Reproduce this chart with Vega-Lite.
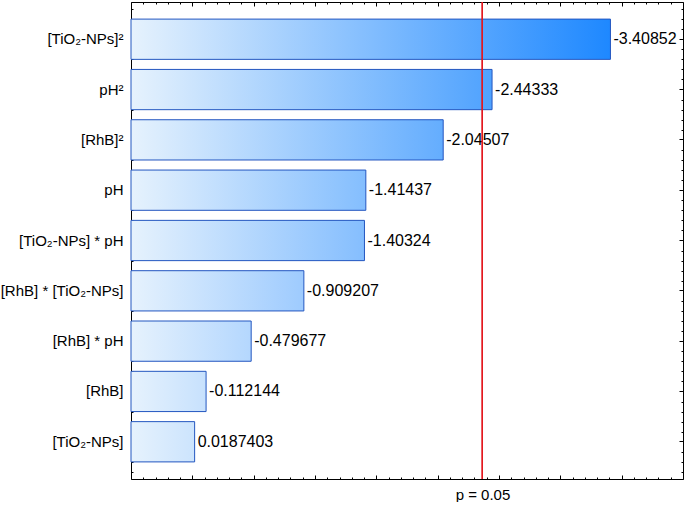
{
  "$schema": "https://vega.github.io/schema/vega-lite/v6.json",
  "width": 552,
  "height": 477,
  "padding": {"left": 0, "top": 1, "right": 2, "bottom": 0},
  "background": "white",
  "config": {
    "view": {"stroke": "#000000", "strokeWidth": 1},
    "font": "Liberation Sans",
    "axis": {"domain": false, "grid": false, "tickColor": "#000000", "tickWidth": 1, "labelColor": "#000000", "labelFont": "Liberation Sans", "labelFontSize": 15, "title": null}
  },
  "data": {"values": [
    {"term": "[TiO₂-NPs]²", "effect": -3.40852, "abs_effect": 3.40852},
    {"term": "pH²", "effect": -2.44333, "abs_effect": 2.44333},
    {"term": "[RhB]²", "effect": -2.04507, "abs_effect": 2.04507},
    {"term": "pH", "effect": -1.41437, "abs_effect": 1.41437},
    {"term": "[TiO₂-NPs] * pH", "effect": -1.40324, "abs_effect": 1.40324},
    {"term": "[RhB] * [TiO₂-NPs]", "effect": -0.909207, "abs_effect": 0.909207},
    {"term": "[RhB] * pH", "effect": -0.479677, "abs_effect": 0.479677},
    {"term": "[RhB]", "effect": -0.112144, "abs_effect": 0.112144},
    {"term": "[TiO₂-NPs]", "effect": 0.0187403, "abs_effect": 0.0187403}
  ]},
  "resolve": {"scale": {"y": "independent"}, "axis": {"y": "independent"}},
  "layer": [
    {
      "resolve": {"axis": {"x": "independent", "y": "independent"}},
      "layer": [
        {
          "transform": [{"filter": "datum.effect === -3.40852"}],
          "mark": {"type": "bar", "stroke": "#2356c0", "strokeWidth": 1, "fill": {"gradient": "linear", "x1": 0, "y1": 0, "x2": 1, "y2": 0, "stops": [{"offset": 0, "color": "#e6f2fd"}, {"offset": 1, "color": "#1e88ff"}]}},
          "encoding": {
            "y": {"field": "term", "type": "nominal", "sort": null, "scale": {"domain": ["[TiO₂-NPs]²", "pH²", "[RhB]²", "pH", "[TiO₂-NPs] * pH", "[RhB] * [TiO₂-NPs]", "[RhB] * pH", "[RhB]", "[TiO₂-NPs]"], "paddingInner": 0.2, "paddingOuter": 0.34}, "axis": {"orient": "left", "tickSize": -4, "labelPadding": 12}},
            "x": {"field": "abs_effect", "type": "quantitative", "scale": {"domain": [-0.5, 4], "nice": false, "zero": false}, "axis": {"orient": "bottom", "values": [-0.5, 0, 0.5, 1, 1.5, 2, 2.5, 3, 3.5, 4], "labels": false, "tickSize": -4}},
            "x2": {"datum": -0.5}
          }
        },
        {
          "transform": [{"filter": "datum.effect === -2.44333"}],
          "mark": {"type": "bar", "stroke": "#2356c0", "strokeWidth": 1, "fill": {"gradient": "linear", "x1": 0, "y1": 0, "x2": 1, "y2": 0, "stops": [{"offset": 0, "color": "#e6f2fd"}, {"offset": 1, "color": "#4fa2fe"}]}},
          "encoding": {
            "y": {"field": "term", "type": "nominal", "sort": null, "axis": null},
            "x": {"field": "abs_effect", "type": "quantitative", "axis": null},
            "x2": {"datum": -0.5}
          }
        },
        {
          "transform": [{"filter": "datum.effect === -2.04507"}],
          "mark": {"type": "bar", "stroke": "#2356c0", "strokeWidth": 1, "fill": {"gradient": "linear", "x1": 0, "y1": 0, "x2": 1, "y2": 0, "stops": [{"offset": 0, "color": "#e6f2fd"}, {"offset": 1, "color": "#64adfe"}]}},
          "encoding": {
            "y": {"field": "term", "type": "nominal", "sort": null, "axis": null},
            "x": {"field": "abs_effect", "type": "quantitative", "axis": null},
            "x2": {"datum": -0.5}
          }
        },
        {
          "transform": [{"filter": "datum.effect === -1.41437"}],
          "mark": {"type": "bar", "stroke": "#2356c0", "strokeWidth": 1, "fill": {"gradient": "linear", "x1": 0, "y1": 0, "x2": 1, "y2": 0, "stops": [{"offset": 0, "color": "#e6f2fd"}, {"offset": 1, "color": "#84befe"}]}},
          "encoding": {
            "y": {"field": "term", "type": "nominal", "sort": null, "axis": null},
            "x": {"field": "abs_effect", "type": "quantitative", "axis": null},
            "x2": {"datum": -0.5}
          }
        },
        {
          "transform": [{"filter": "datum.effect === -1.40324"}],
          "mark": {"type": "bar", "stroke": "#2356c0", "strokeWidth": 1, "fill": {"gradient": "linear", "x1": 0, "y1": 0, "x2": 1, "y2": 0, "stops": [{"offset": 0, "color": "#e6f2fd"}, {"offset": 1, "color": "#85befe"}]}},
          "encoding": {
            "y": {"field": "term", "type": "nominal", "sort": null, "axis": null},
            "x": {"field": "abs_effect", "type": "quantitative", "axis": null},
            "x2": {"datum": -0.5}
          }
        },
        {
          "transform": [{"filter": "datum.effect === -0.909207"}],
          "mark": {"type": "bar", "stroke": "#2356c0", "strokeWidth": 1, "fill": {"gradient": "linear", "x1": 0, "y1": 0, "x2": 1, "y2": 0, "stops": [{"offset": 0, "color": "#e6f2fd"}, {"offset": 1, "color": "#9ecbfe"}]}},
          "encoding": {
            "y": {"field": "term", "type": "nominal", "sort": null, "axis": null},
            "x": {"field": "abs_effect", "type": "quantitative", "axis": null},
            "x2": {"datum": -0.5}
          }
        },
        {
          "transform": [{"filter": "datum.effect === -0.479677"}],
          "mark": {"type": "bar", "stroke": "#2356c0", "strokeWidth": 1, "fill": {"gradient": "linear", "x1": 0, "y1": 0, "x2": 1, "y2": 0, "stops": [{"offset": 0, "color": "#e6f2fd"}, {"offset": 1, "color": "#b4d7fe"}]}},
          "encoding": {
            "y": {"field": "term", "type": "nominal", "sort": null, "axis": null},
            "x": {"field": "abs_effect", "type": "quantitative", "axis": null},
            "x2": {"datum": -0.5}
          }
        },
        {
          "transform": [{"filter": "datum.effect === -0.112144"}],
          "mark": {"type": "bar", "stroke": "#2356c0", "strokeWidth": 1, "fill": {"gradient": "linear", "x1": 0, "y1": 0, "x2": 1, "y2": 0, "stops": [{"offset": 0, "color": "#e6f2fd"}, {"offset": 1, "color": "#c7e1fd"}]}},
          "encoding": {
            "y": {"field": "term", "type": "nominal", "sort": null, "axis": null},
            "x": {"field": "abs_effect", "type": "quantitative", "axis": null},
            "x2": {"datum": -0.5}
          }
        },
        {
          "transform": [{"filter": "datum.effect === 0.0187403"}],
          "mark": {"type": "bar", "stroke": "#2356c0", "strokeWidth": 1, "fill": {"gradient": "linear", "x1": 0, "y1": 0, "x2": 1, "y2": 0, "stops": [{"offset": 0, "color": "#e6f2fd"}, {"offset": 1, "color": "#cce4fd"}]}},
          "encoding": {
            "y": {"field": "term", "type": "nominal", "sort": null, "axis": null},
            "x": {"field": "abs_effect", "type": "quantitative", "axis": null},
            "x2": {"datum": -0.5}
          }
        },
        {
          "mark": {"type": "text", "align": "left", "baseline": "middle", "dx": 3, "fontSize": 16, "font": "Liberation Sans", "color": "#000000"},
          "encoding": {
            "y": {"field": "term", "type": "nominal", "sort": null, "axis": {"orient": "right", "labels": false, "tickSize": -4}},
            "x": {"field": "abs_effect", "type": "quantitative", "axis": {"orient": "top", "values": [-0.5, 0, 0.5, 1, 1.5, 2, 2.5, 3, 3.5, 4], "labels": false, "tickSize": -4}},
            "text": {"field": "effect", "type": "nominal"}
          }
        },
        {
          "mark": {"type": "rule", "color": "#e3191f", "strokeWidth": 1.1},
          "encoding": {
            "x": {"datum": 2.365, "type": "quantitative", "axis": {"orient": "bottom", "values": [2.365], "labelExpr": "'p = 0.05'", "ticks": false, "labelPadding": 8, "labelFontSize": 15}}
          }
        },
        {
          "mark": {"type": "point", "opacity": 0},
          "encoding": {
            "x": {"datum": 0, "type": "quantitative", "axis": {"orient": "bottom", "values": [-0.4, -0.3, -0.2, -0.1, 0.1, 0.2, 0.3, 0.4, 0.6, 0.7, 0.8, 0.9, 1.1, 1.2, 1.3, 1.4, 1.6, 1.7, 1.8, 1.9, 2.1, 2.2, 2.3, 2.4, 2.6, 2.7, 2.8, 2.9, 3.1, 3.2, 3.3, 3.4, 3.6, 3.7, 3.8, 3.9], "labels": false, "tickSize": -2}}
          }
        },
        {
          "mark": {"type": "point", "opacity": 0},
          "encoding": {
            "x": {"datum": 0, "type": "quantitative", "axis": {"orient": "top", "values": [-0.4, -0.3, -0.2, -0.1, 0.1, 0.2, 0.3, 0.4, 0.6, 0.7, 0.8, 0.9, 1.1, 1.2, 1.3, 1.4, 1.6, 1.7, 1.8, 1.9, 2.1, 2.2, 2.3, 2.4, 2.6, 2.7, 2.8, 2.9, 3.1, 3.2, 3.3, 3.4, 3.6, 3.7, 3.8, 3.9], "labels": false, "tickSize": -2}}
          }
        }
      ]
    },
    {
      "mark": {"type": "point", "opacity": 0},
      "encoding": {
        "y": {"datum": 1, "type": "quantitative", "scale": {"domain": [0, 9.48], "reverse": true, "nice": false, "zero": false}, "axis": {"orient": "left", "values": [0.14, 0.34, 0.54, 0.94, 1.14, 1.34, 1.54, 1.94, 2.14, 2.34, 2.54, 2.94, 3.14, 3.34, 3.54, 3.94, 4.14, 4.34, 4.54, 4.94, 5.14, 5.34, 5.54, 5.94, 6.14, 6.34, 6.54, 6.94, 7.14, 7.34, 7.54, 7.94, 8.14, 8.34, 8.54, 8.94, 9.14, 9.34], "labels": false, "tickSize": -2}}
      }
    },
    {
      "mark": {"type": "point", "opacity": 0},
      "encoding": {
        "y": {"datum": 1, "type": "quantitative", "scale": {"domain": [0, 9.48], "reverse": true, "nice": false, "zero": false}, "axis": {"orient": "right", "values": [0.14, 0.34, 0.54, 0.94, 1.14, 1.34, 1.54, 1.94, 2.14, 2.34, 2.54, 2.94, 3.14, 3.34, 3.54, 3.94, 4.14, 4.34, 4.54, 4.94, 5.14, 5.34, 5.54, 5.94, 6.14, 6.34, 6.54, 6.94, 7.14, 7.34, 7.54, 7.94, 8.14, 8.34, 8.54, 8.94, 9.14, 9.34], "labels": false, "tickSize": -2}}
      }
    }
  ]
}
